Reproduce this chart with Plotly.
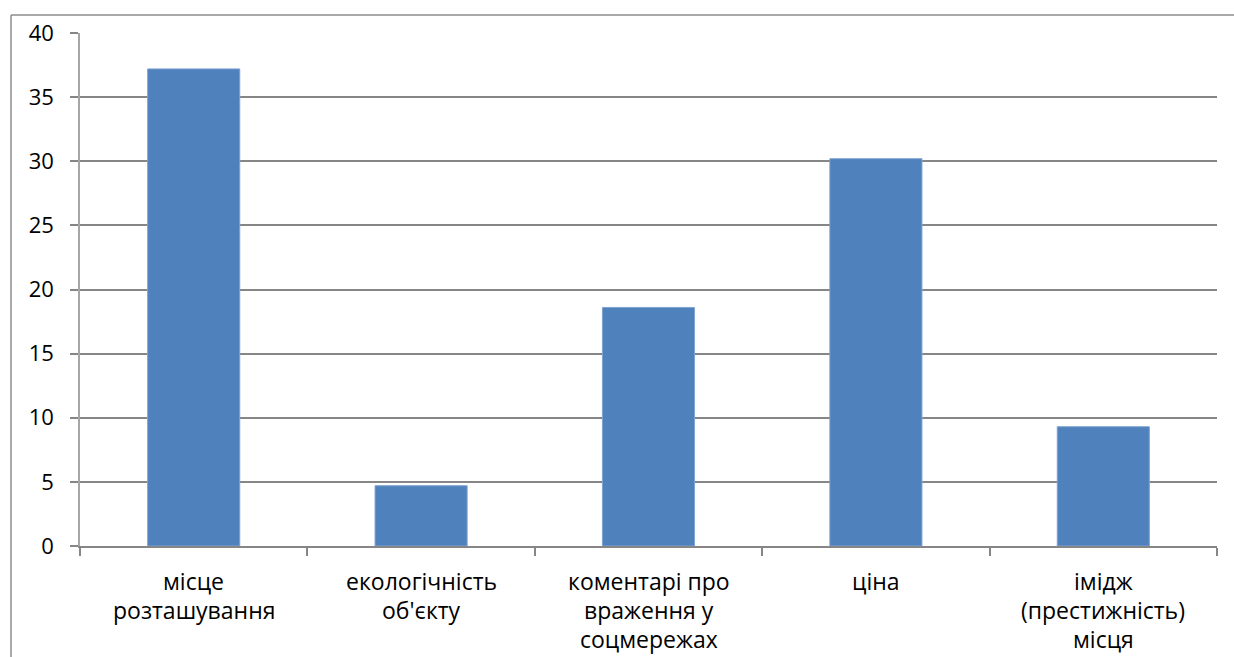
import plotly.graph_objects as go

# Survey results: factors when choosing a place
categories = ["місце розташування", "екологічність об'єкту", "коментарі про враження у соцмережах",
              "ціна", "імідж (престижність) місця"]
label_lines = [["місце", "розташування"],
               ["екологічність", "об'єкту"],
               ["коментарі про", "враження у", "соцмережах"],
               ["ціна"],
               ["імідж", "(престижність)", "місця"]]
values = [37.2, 4.7, 18.6, 30.2, 9.3]
y_ticks = [0, 5, 10, 15, 20, 25, 30, 35, 40]

W, H = 1234, 657
L, R, T, B = 80, 17, 33, 111
pw, ph = W - L - R, H - T - B

FONT = "Open Sans"
GRID = "#868686"

fig = go.Figure(go.Bar(
    x=categories, y=values, width=0.405,
    marker=dict(color="#4F81BD", line=dict(color="#7FA3D1", width=1)),
    hoverinfo="x+y",
))

fig.update_layout(
    width=W, height=H,
    margin=dict(l=L, r=R, t=T, b=B),
    paper_bgcolor="white", plot_bgcolor="white",
    showlegend=False,
    font=dict(family=FONT, size=22, color="#000000"),
)

fig.update_yaxes(
    range=[0, 40], tickvals=y_ticks, ticktext=[str(v) for v in y_ticks],
    showgrid=True, gridcolor=GRID, gridwidth=1.5,
    showline=True, linecolor="#A6A6A6", linewidth=1.5,
    ticks="outside", ticklen=8, tickcolor=GRID, tickwidth=1.5,
    tickfont=dict(family=FONT, size=22),
    ticklabelstandoff=12,
    zeroline=False,
)

fig.update_xaxes(
    type="category", showticklabels=False,
    showline=True, linecolor=GRID, linewidth=1.5,
    ticks="outside", tickson="boundaries", ticklen=8, tickcolor=GRID, tickwidth=1.5,
    showgrid=False, range=[-0.5, len(categories) - 0.5],
)

# Category labels, one line per annotation for Office-like line spacing
line_step = 29
first_line = 581 - (T + ph)
for cat, lines in zip(categories, label_lines):
    for i, txt in enumerate(lines):
        fig.add_annotation(
            x=cat, xref="x", y=0, yref="paper",
            text=txt, showarrow=False,
            yanchor="middle", xanchor="center",
            yshift=-(first_line + i * line_step),
            font=dict(family=FONT, size=23, color="#000000"),
        )

# Outer chart frame (top and left edges)
fx0 = (11 - L) / pw
fy0 = 1 - (15 - T) / ph
fx1 = (W + 5 - L) / pw
fy1 = 1 - (H + 5 - T) / ph
fig.add_shape(type="line", xref="paper", yref="paper", x0=fx0, y0=fy0, x1=fx1, y1=fy0,
              line=dict(color="#8C8C8C", width=1.5))
fig.add_shape(type="line", xref="paper", yref="paper", x0=fx0, y0=fy0, x1=fx0, y1=fy1,
              line=dict(color="#8C8C8C", width=1.5))

fig.write_html("out.html")
